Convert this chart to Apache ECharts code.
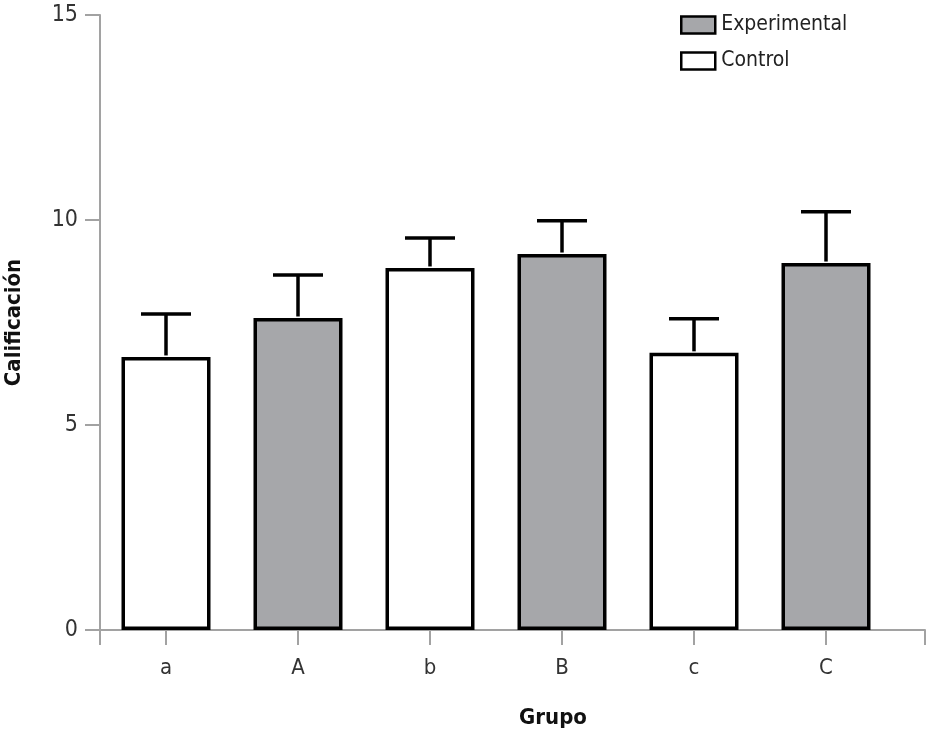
<!DOCTYPE html>
<html>
<head>
<meta charset="utf-8">
<script src="https://cdn.jsdelivr.net/npm/echarts@6/dist/echarts.min.js"></script>
<style>
html,body{margin:0;padding:0;background:#fff;}
#c{width:927px;height:733px;}
</style>
</head>
<body>
<div id="c"></div>
<script>
var categories = ['a', 'A', 'b', 'B', 'c', 'C'];
var controlValues = [6.66, null, 8.83, null, 6.76, null];
var experimentalValues = [null, 7.61, null, 9.17, null, 8.95];
var errorValues = [1.05, 1.05, 0.73, 0.81, 0.83, 1.25];
var yTicks = [0, 5, 10, 15];

var FONT = '"DejaVu Sans Condensed", "Liberation Sans", sans-serif';
var AXIS = '#a2a2a2';

var errData = categories.map(function (c, i) {
  var m = controlValues[i] != null ? controlValues[i] : experimentalValues[i];
  return [i, m, m + errorValues[i]];
});

var chart = echarts.init(document.getElementById('c'));
chart.setOption({
  animation: false,
  backgroundColor: '#fff',
  grid: [
    {left: 100, right: 35, top: 15, bottom: 103, outerBoundsMode: 'none', containLabel: false},
    {left: 100, right: 2, top: 15, bottom: 103, outerBoundsMode: 'none', containLabel: false}
  ],
  legend: {
    orient: 'vertical',
    left: 680, top: 14, padding: 0,
    itemWidth: 34, itemHeight: 17, itemGap: 14,
    icon: 'rect',
    data: ['Experimental', 'Control'],
    itemStyle: {borderWidth: 2.5, borderColor: '#000'},
    textStyle: {fontFamily: FONT, fontSize: 21, lineHeight: 22, color: '#222', padding: [0, 0, 0, 1]}
  },
  xAxis: [
    {
      type: 'category', gridIndex: 0, data: categories,
      axisLine: {show: true, lineStyle: {color: AXIS, width: 2}},
      axisTick: {show: true, alignWithLabel: true, length: 15, lineStyle: {color: AXIS, width: 2}},
      axisLabel: {fontFamily: FONT, fontSize: 22, color: '#333', margin: 27}
    },
    {
      type: 'value', gridIndex: 1, min: 0, max: 1, interval: 1,
      axisLine: {show: true, lineStyle: {color: AXIS, width: 2}},
      axisTick: {show: true, length: 15, lineStyle: {color: AXIS, width: 2}},
      axisLabel: {show: false},
      splitLine: {show: false}
    }
  ],
  yAxis: [
    {
      type: 'value', gridIndex: 0, min: 0, max: 15, interval: 5,
      name: 'Calificación', nameLocation: 'middle', nameGap: 75,
      nameTextStyle: {fontFamily: FONT, fontSize: 22, fontWeight: 'bold', color: '#111'},
      axisLine: {show: true, lineStyle: {color: AXIS, width: 2}},
      axisTick: {show: true, length: 15, lineStyle: {color: AXIS, width: 2}},
      axisLabel: {fontFamily: FONT, fontSize: 23, color: '#333', margin: 22,
        formatter: function (v) { return yTicks.indexOf(v) >= 0 ? String(v) : ''; }},
      splitLine: {show: false}
    },
    {
      type: 'value', gridIndex: 1, min: 0, max: 15, show: false
    }
  ],
  graphic: [{
    type: 'text', x: 553, y: 718,
    style: {text: 'Grupo', fontFamily: FONT, fontSize: 22, fontWeight: 'bold', fill: '#111',
      align: 'center', verticalAlign: 'middle'}
  }],
  series: [
    {
      name: 'Experimental', type: 'bar', data: experimentalValues,
      barWidth: 89, barGap: '-100%',
      itemStyle: {color: '#a6a7aa', borderColor: '#000', borderWidth: 3.5},
      z: 3
    },
    {
      name: 'Control', type: 'bar', data: controlValues,
      barWidth: 89, barGap: '-100%',
      itemStyle: {color: '#ffffff', borderColor: '#000', borderWidth: 3.5},
      z: 3
    },
    {
      type: 'custom', data: errData, z: 4,
      encode: {x: 0, y: [1, 2]},
      renderItem: function (params, api) {
        var x = api.value(0);
        var p0 = api.coord([x, api.value(1)]);
        var p1 = api.coord([x, api.value(2)]);
        var half = 25;
        var st = {stroke: '#000', lineWidth: 3.5, fill: null};
        return {
          type: 'group',
          children: [
            {type: 'line', shape: {x1: p0[0], y1: p0[1] - 1.5, x2: p1[0], y2: p1[1]}, style: st},
            {type: 'line', shape: {x1: p1[0] - half, y1: p1[1], x2: p1[0] + half, y2: p1[1]}, style: st}
          ]
        };
      }
    }
  ]
});
</script>
</body>
</html>
